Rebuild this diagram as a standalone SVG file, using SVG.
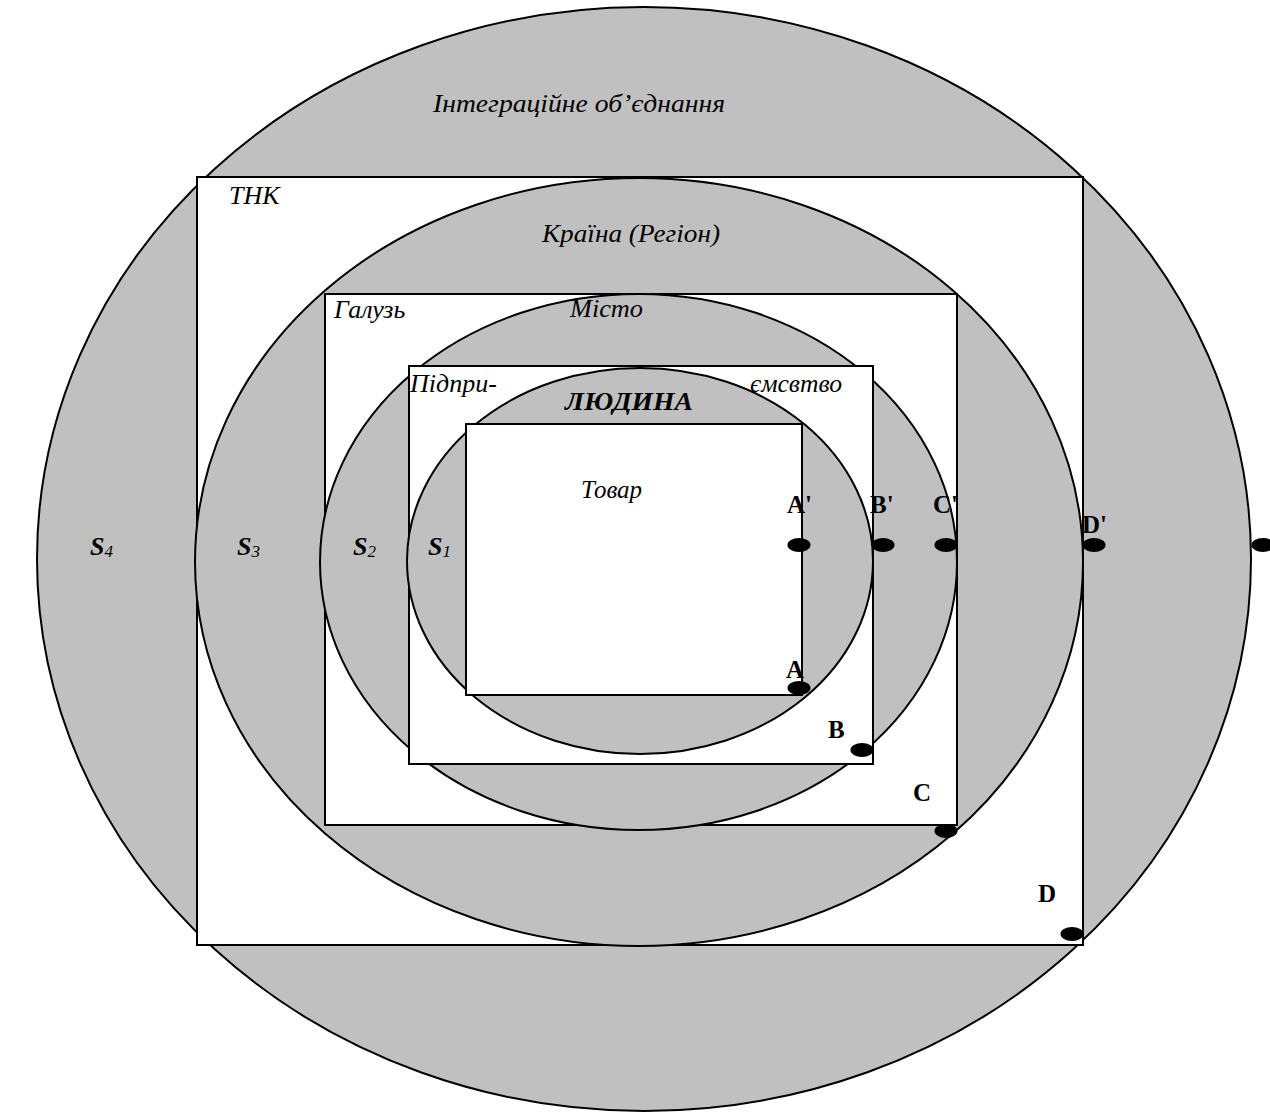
<svg xmlns="http://www.w3.org/2000/svg" width="1270" height="1113" viewBox="0 0 1270 1113">
<style>
.ell{fill:#c0c0c0;stroke:#000;stroke-width:2}
.box{fill:#fff;stroke:#000;stroke-width:2}
.it{font-family:"Liberation Serif","Times New Roman",serif;font-style:italic;font-size:26px;fill:#000}
.bi{font-family:"Liberation Serif","Times New Roman",serif;font-style:italic;font-weight:bold;font-size:26px;fill:#000}
.lb{font-family:"Liberation Serif","Times New Roman",serif;font-weight:bold;font-size:25px;fill:#000}
.sub{font-size:17px;font-weight:normal}
.dot{fill:#000}
</style>
<rect width="1270" height="1113" fill="#fff"/>
<g id="integration">
<ellipse class="ell" cx="644" cy="559" rx="607" ry="552"/>
<text class="it" x="433" y="112" textLength="292" lengthAdjust="spacingAndGlyphs">Інтеграційне об’єднання</text>
</g>
<g id="tnk">
<rect class="box" x="197" y="177" width="886" height="768"/>
<text class="it" x="229" y="204">ТНК</text>
</g>
<g id="country">
<ellipse class="ell" cx="639" cy="562" rx="444" ry="384"/>
<text class="it" x="542" y="242" textLength="178" lengthAdjust="spacingAndGlyphs">Країна (Регіон)</text>
</g>
<g id="industry">
<rect class="box" x="325" y="294" width="632" height="531"/>
<text class="it" x="334" y="318">Галузь</text>
</g>
<g id="city">
<ellipse class="ell" cx="638.5" cy="562" rx="318.5" ry="268"/>
<text class="it" x="570" y="317" textLength="73" lengthAdjust="spacingAndGlyphs">Місто</text>
</g>
<g id="enterprise">
<rect class="box" x="409" y="366" width="464" height="398"/>
<text class="it" x="410" y="392">Підпри-</text>
<text class="it" x="750" y="392" textLength="92" lengthAdjust="spacingAndGlyphs">ємсвтво</text>
</g>
<g id="person">
<ellipse class="ell" cx="640" cy="561" rx="233" ry="193"/>
<text class="bi" x="565" y="410" textLength="128" lengthAdjust="spacingAndGlyphs">ЛЮДИНА</text>
</g>
<g id="goods">
<rect class="box" x="466" y="424" width="336" height="271"/>
<text class="it" x="581" y="498" textLength="61" lengthAdjust="spacingAndGlyphs">Товар</text>
</g>
<g id="spheres">
<text class="bi" x="90" y="555">S<tspan class="sub" dy="2">4</tspan></text>
<text class="bi" x="237" y="555">S<tspan class="sub" dy="2">3</tspan></text>
<text class="bi" x="353" y="555">S<tspan class="sub" dy="2">2</tspan></text>
<text class="bi" x="428" y="555">S<tspan class="sub" dy="2">1</tspan></text>
</g>
<g id="points">
<ellipse class="dot" cx="799" cy="545" rx="11.5" ry="7"/>
<ellipse class="dot" cx="883" cy="545" rx="11.5" ry="7"/>
<ellipse class="dot" cx="946" cy="545" rx="11.5" ry="7"/>
<ellipse class="dot" cx="1094" cy="545" rx="11.5" ry="7"/>
<ellipse class="dot" cx="1263" cy="545" rx="11.5" ry="7"/>
<ellipse class="dot" cx="799" cy="688" rx="11.5" ry="7"/>
<ellipse class="dot" cx="862" cy="750" rx="11.5" ry="7"/>
<ellipse class="dot" cx="946" cy="831" rx="11.5" ry="7"/>
<ellipse class="dot" cx="1072" cy="934" rx="11.5" ry="7"/>
<text class="lb" x="787" y="513">A'</text>
<text class="lb" x="870" y="513">B'</text>
<text class="lb" x="933" y="513">C'</text>
<text class="lb" x="1082" y="533">D'</text>
<text class="lb" x="786" y="678">A</text>
<text class="lb" x="828" y="738">B</text>
<text class="lb" x="913" y="801">C</text>
<text class="lb" x="1038" y="902">D</text>
</g>
</svg>
